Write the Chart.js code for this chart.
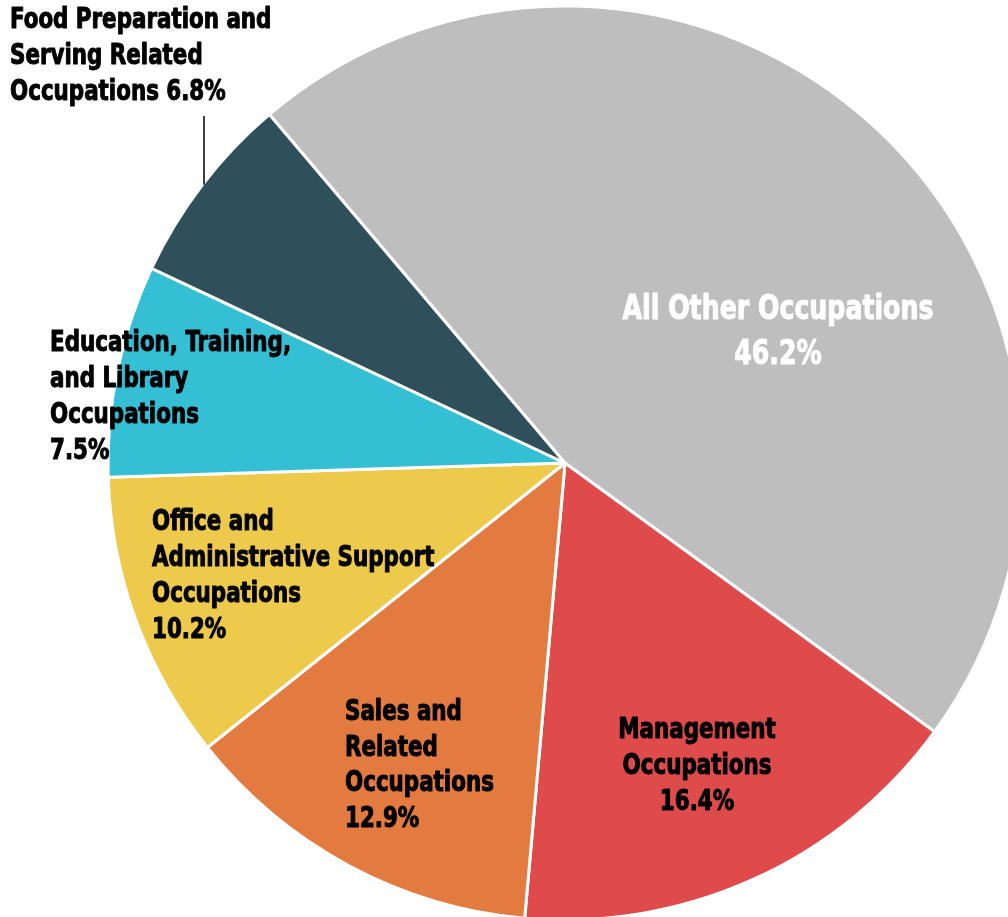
<!DOCTYPE html>
<html>
<head>
<meta charset="utf-8">
<script src="https://cdn.jsdelivr.net/npm/chart.js@4/dist/chart.umd.min.js"></script>
<style>
  html, body { margin: 0; padding: 0; background: #fff; overflow: hidden; }
  #wrap { position: relative; width: 1008px; height: 917px; }
</style>
</head>
<body>
<div id="wrap"><canvas id="myChart" width="1008" height="917"></canvas></div>
<script>
/* data */
var categories = [
  "All Other Occupations",
  "Management Occupations",
  "Sales and Related Occupations",
  "Office and Administrative Support Occupations",
  "Education, Training, and Library Occupations",
  "Food Preparation and Serving Related Occupations"
];
var shares = [46.2, 16.4, 12.9, 10.2, 7.5, 6.8];
var labelLines = [
  ["All Other Occupations"],
  ["Management", "Occupations"],
  ["Sales and", "Related", "Occupations"],
  ["Office and", "Administrative Support", "Occupations"],
  ["Education, Training,", "and Library", "Occupations"],
  ["Food Preparation and", "Serving Related", "Occupations"]
];
var colors = ["#bebebe", "#df4b4b", "#e37a3f", "#edc94c", "#34bfd4", "#2f4f5a"];

/* label layout, offsets from pie centre */
var FONT = '"Liberation Sans Narrow", "DejaVu Sans Condensed", "Arial Narrow", sans-serif';
var squeeze = 0.85; // condense the glyphs a bit, the original uses a narrow face
var labelStyle = [
  { dx: 213, dy: -153, size: 33, lh: 45, align: "center", color: "#fff", pctOwnLine: true },
  { dx: 132, dy: 268, size: 28, lh: 36, align: "center", color: "#000", pctOwnLine: true },
  { dx: -220, dy: 250, size: 28, lh: 35.5, align: "left", color: "#000", pctOwnLine: true },
  { dx: -413, dy: 60, size: 28, lh: 36, align: "left", color: "#000", pctOwnLine: true },
  { dx: -515, dy: -119, size: 28, lh: 36, align: "left", color: "#000", pctOwnLine: true },
  { dx: -555, dy: -442, size: 28, lh: 36, align: "left", color: "#000", pctOwnLine: false, leaderX: -361 }
];

var labelPlugin = {
  id: "sliceLabels",
  afterDatasetsDraw: function(chart){
    var ctx = chart.ctx;
    var arcs = chart.getDatasetMeta(0).data;
    arcs.forEach(function(arc, i){
      var st = labelStyle[i];
      var lines = labelLines[i].slice();
      var pct = shares[i].toFixed(1) + "%";
      if(st.pctOwnLine){
        lines.push(pct);
      }else{
        lines[lines.length-1] += " " + pct;
      }
      var x = arc.x + st.dx, y = arc.y + st.dy;
      lines.forEach(function(t, k){
        ctx.save();
        ctx.font = "bold " + st.size + "px " + FONT;
        ctx.fillStyle = st.color;
        ctx.strokeStyle = st.color;
        ctx.lineWidth = 1;
        ctx.lineJoin = "round";
        ctx.textAlign = st.align;
        ctx.textBaseline = "middle";
        ctx.translate(x, y + k * st.lh);
        ctx.scale(squeeze, 1);
        ctx.fillText(t, 0, 0);
        ctx.strokeText(t, 0, 0);
        ctx.restore();
      });
      // leader line down to the slice edge
      if(st.leaderX !== undefined){
        var lx = arc.x + st.leaderX;
        var r = arc.outerRadius;
        var ey = arc.y - Math.sqrt(r*r - st.leaderX*st.leaderX);
        ctx.save();
        ctx.beginPath();
        ctx.strokeStyle = "#000";
        ctx.lineWidth = 1.5;
        ctx.moveTo(lx, y + (lines.length - 1) * st.lh + 23);
        ctx.lineTo(lx, ey + 2);
        ctx.stroke();
        ctx.restore();
      }
    });
  }
};

var canvas = document.getElementById('myChart');
var ctx = canvas.getContext('2d');

var plot = new Chart(ctx, {
  type: 'pie',
  data: {
    labels: categories,
    datasets: [{
      data: shares,
      backgroundColor: colors,
      borderColor: "#ffffff",
      borderWidth: 3,
      hoverOffset: 0
    }]
  },
  options: {
    responsive: false,
    animation: false,
    rotation: -40.3,
    radius: 457,
    layout: { padding: { left: 122, right: 0, top: 9, bottom: 0 } },
    plugins: {
      legend: { display: false },
      tooltip: { enabled: false }
    }
  },
  plugins: [labelPlugin]
});
</script>
</body>
</html>
